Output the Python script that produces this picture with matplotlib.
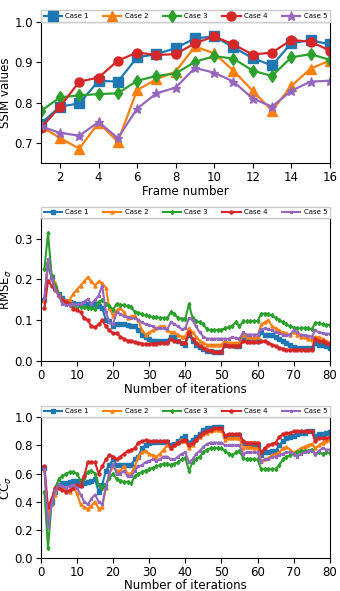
import numpy as np
import matplotlib
matplotlib.use("Agg")
import matplotlib.pyplot as plt

# Panel 1: SSIM per frame
frames = list(range(1, 17))
ssim_c1 = [0.748, 0.790, 0.798, 0.854, 0.852, 0.912, 0.920, 0.935, 0.959, 0.964, 0.937, 0.910, 0.892, 0.947, 0.955, 0.944]
ssim_c2 = [0.741, 0.712, 0.686, 0.750, 0.703, 0.831, 0.858, 0.877, 0.939, 0.922, 0.879, 0.829, 0.780, 0.841, 0.884, 0.904]
ssim_c3 = [0.779, 0.813, 0.818, 0.821, 0.823, 0.854, 0.866, 0.872, 0.901, 0.915, 0.909, 0.879, 0.866, 0.912, 0.920, 0.906]
ssim_c4 = [0.737, 0.790, 0.852, 0.862, 0.904, 0.924, 0.918, 0.920, 0.947, 0.964, 0.944, 0.919, 0.924, 0.955, 0.951, 0.929]
ssim_c5 = [0.741, 0.725, 0.718, 0.752, 0.712, 0.785, 0.823, 0.837, 0.886, 0.874, 0.852, 0.810, 0.790, 0.829, 0.852, 0.854]

# Panel 2: RMSE per iteration
iters = list(range(1, 81))
rmse_c1 = [0.149, 0.235, 0.205, 0.180, 0.165, 0.155, 0.148, 0.145, 0.143, 0.140,
           0.140, 0.142, 0.140, 0.138, 0.140, 0.135, 0.130, 0.101, 0.098, 0.085,
           0.092, 0.090, 0.090, 0.088, 0.087, 0.085, 0.075, 0.065, 0.058, 0.053,
           0.050, 0.050, 0.050, 0.050, 0.050, 0.060, 0.058, 0.050, 0.045, 0.040,
           0.065, 0.050, 0.040, 0.035, 0.030, 0.025, 0.024, 0.023, 0.022, 0.022,
           0.040, 0.040, 0.039, 0.038, 0.038, 0.060, 0.055, 0.050, 0.050, 0.050,
           0.070, 0.065, 0.065, 0.065, 0.060, 0.055, 0.050, 0.045, 0.040, 0.035,
           0.033, 0.033, 0.033, 0.033, 0.033, 0.045, 0.040, 0.040, 0.037, 0.033]
rmse_c2 = [0.148, 0.245, 0.210, 0.190, 0.165, 0.152, 0.148, 0.150, 0.165, 0.175,
           0.185, 0.195, 0.205, 0.195, 0.185, 0.195, 0.190, 0.180, 0.130, 0.110,
           0.125, 0.130, 0.120, 0.105, 0.110, 0.110, 0.100, 0.075, 0.065, 0.070,
           0.075, 0.080, 0.085, 0.085, 0.075, 0.070, 0.070, 0.065, 0.060, 0.060,
           0.080, 0.070, 0.060, 0.050, 0.045, 0.040, 0.040, 0.040, 0.040, 0.040,
           0.050, 0.045, 0.045, 0.045, 0.045, 0.065, 0.060, 0.058, 0.057, 0.060,
           0.090, 0.095, 0.100, 0.085, 0.080, 0.075, 0.070, 0.068, 0.065, 0.070,
           0.065, 0.060, 0.058, 0.055, 0.052, 0.060, 0.058, 0.055, 0.050, 0.045]
rmse_c3 = [0.226, 0.313, 0.209, 0.185, 0.165, 0.150, 0.145, 0.138, 0.135, 0.133,
           0.133, 0.132, 0.130, 0.130, 0.127, 0.145, 0.149, 0.140, 0.135, 0.126,
           0.140, 0.138, 0.137, 0.135, 0.133, 0.120, 0.118, 0.115, 0.112, 0.110,
           0.108, 0.107, 0.106, 0.105, 0.105, 0.120, 0.115, 0.105, 0.104, 0.104,
           0.139, 0.106, 0.098, 0.095, 0.090, 0.078, 0.076, 0.076, 0.076, 0.077,
           0.080, 0.083, 0.085, 0.096, 0.085, 0.097, 0.097, 0.098, 0.098, 0.098,
           0.116, 0.116, 0.115, 0.112, 0.105, 0.100, 0.095, 0.090, 0.085, 0.082,
           0.080, 0.080, 0.081, 0.080, 0.078, 0.093, 0.093, 0.090, 0.088, 0.089]
rmse_c4 = [0.130, 0.195, 0.185, 0.175, 0.160, 0.150, 0.145, 0.140, 0.128, 0.125,
           0.120, 0.105, 0.100, 0.085, 0.083, 0.090, 0.100, 0.085, 0.075, 0.068,
           0.068, 0.060, 0.055, 0.050, 0.050, 0.047, 0.045, 0.043, 0.042, 0.042,
           0.043, 0.043, 0.044, 0.044, 0.045, 0.055, 0.050, 0.048, 0.045, 0.045,
           0.070, 0.055, 0.045, 0.037, 0.032, 0.028, 0.025, 0.023, 0.022, 0.022,
           0.040, 0.038, 0.038, 0.038, 0.038, 0.048, 0.047, 0.047, 0.047, 0.047,
           0.050, 0.048, 0.045, 0.040, 0.037, 0.033, 0.030, 0.028, 0.028, 0.028,
           0.028, 0.028, 0.028, 0.028, 0.028, 0.055, 0.050, 0.048, 0.045, 0.043]
rmse_c5 = [0.155, 0.250, 0.200, 0.175, 0.160, 0.140, 0.137, 0.138, 0.140, 0.138,
           0.140, 0.145, 0.152, 0.140, 0.150, 0.160, 0.185, 0.120, 0.095, 0.090,
           0.120, 0.115, 0.110, 0.108, 0.105, 0.105, 0.100, 0.095, 0.090, 0.088,
           0.085, 0.080, 0.080, 0.080, 0.078, 0.095, 0.090, 0.085, 0.078, 0.080,
           0.105, 0.100, 0.085, 0.070, 0.060, 0.055, 0.055, 0.055, 0.055, 0.055,
           0.055, 0.055, 0.058, 0.057, 0.055, 0.070, 0.065, 0.065, 0.065, 0.065,
           0.078, 0.080, 0.078, 0.075, 0.070, 0.068, 0.065, 0.063, 0.065, 0.075,
           0.070, 0.065, 0.063, 0.062, 0.060, 0.075, 0.070, 0.068, 0.067, 0.067]

# Panel 3: CC per iteration
cc_c1 = [0.64, 0.30, 0.40, 0.47, 0.52, 0.53, 0.535, 0.54, 0.545, 0.55,
         0.52, 0.53, 0.54, 0.55, 0.56, 0.47, 0.52, 0.62, 0.66, 0.70,
         0.66, 0.66, 0.66, 0.66, 0.66, 0.70, 0.72, 0.78, 0.80, 0.82,
         0.825, 0.825, 0.825, 0.825, 0.825, 0.80, 0.81, 0.83, 0.85, 0.87,
         0.82, 0.84, 0.86, 0.88, 0.91, 0.92, 0.925, 0.93, 0.93, 0.93,
         0.87, 0.87, 0.87, 0.87, 0.875, 0.82, 0.80, 0.80, 0.80, 0.80,
         0.73, 0.75, 0.755, 0.76, 0.76, 0.80, 0.83, 0.85, 0.86, 0.87,
         0.88, 0.89, 0.89, 0.90, 0.90, 0.87, 0.88, 0.88, 0.885, 0.895]
cc_c2 = [0.63, 0.30, 0.38, 0.45, 0.52, 0.50, 0.48, 0.47, 0.50, 0.46,
         0.38, 0.36, 0.35, 0.37, 0.40, 0.35, 0.36, 0.50, 0.60, 0.65,
         0.62, 0.62, 0.65, 0.60, 0.60, 0.65, 0.72, 0.75, 0.76, 0.74,
         0.73, 0.72, 0.74, 0.77, 0.80, 0.78, 0.80, 0.82, 0.84, 0.83,
         0.78, 0.80, 0.84, 0.86, 0.88, 0.89, 0.90, 0.91, 0.91, 0.91,
         0.84, 0.85, 0.85, 0.85, 0.85, 0.78, 0.79, 0.79, 0.78, 0.78,
         0.69, 0.70, 0.71, 0.73, 0.74, 0.75, 0.78, 0.79, 0.77, 0.75,
         0.76, 0.78, 0.79, 0.80, 0.81, 0.78, 0.80, 0.82, 0.83, 0.84]
cc_c3 = [0.47, 0.07, 0.40, 0.50, 0.56, 0.58, 0.60, 0.61, 0.61, 0.60,
         0.55, 0.57, 0.61, 0.62, 0.60, 0.52, 0.50, 0.52, 0.57, 0.60,
         0.56, 0.55, 0.54, 0.54, 0.53, 0.58, 0.60, 0.61, 0.62, 0.63,
         0.64, 0.65, 0.66, 0.67, 0.67, 0.66, 0.67, 0.68, 0.70, 0.71,
         0.62, 0.68, 0.70, 0.72, 0.75, 0.77, 0.78, 0.78, 0.78, 0.78,
         0.76, 0.74, 0.73, 0.75, 0.76, 0.71, 0.70, 0.70, 0.70, 0.70,
         0.63, 0.63, 0.63, 0.63, 0.63, 0.66, 0.70, 0.72, 0.73, 0.74,
         0.75, 0.76, 0.76, 0.76, 0.77, 0.74, 0.75, 0.74, 0.75, 0.745]
cc_c4 = [0.65, 0.36, 0.42, 0.50, 0.50, 0.48, 0.47, 0.48, 0.50, 0.52,
         0.51, 0.58, 0.68, 0.68, 0.68, 0.60, 0.65, 0.70, 0.73, 0.72,
         0.70, 0.72, 0.74, 0.76, 0.77, 0.78, 0.82, 0.83, 0.835, 0.83,
         0.83, 0.83, 0.83, 0.83, 0.83, 0.78, 0.80, 0.82, 0.83, 0.84,
         0.80, 0.82, 0.84, 0.87, 0.89, 0.90, 0.91, 0.92, 0.92, 0.92,
         0.87, 0.88, 0.88, 0.88, 0.88, 0.83, 0.82, 0.82, 0.82, 0.82,
         0.75, 0.78, 0.80, 0.81, 0.82, 0.86, 0.88, 0.885, 0.89, 0.90,
         0.90, 0.90, 0.90, 0.90, 0.90, 0.83, 0.85, 0.85, 0.85, 0.86]
cc_c5 = [0.63, 0.22, 0.38, 0.48, 0.52, 0.51, 0.50, 0.51, 0.52, 0.50,
         0.45, 0.40, 0.38, 0.42, 0.45, 0.40, 0.38, 0.50, 0.60, 0.67,
         0.60, 0.60, 0.62, 0.58, 0.58, 0.62, 0.65, 0.66, 0.68, 0.69,
         0.70, 0.69, 0.70, 0.72, 0.72, 0.70, 0.70, 0.72, 0.74, 0.75,
         0.68, 0.70, 0.74, 0.76, 0.79, 0.81, 0.82, 0.82, 0.82, 0.82,
         0.80, 0.80, 0.80, 0.80, 0.80, 0.74, 0.75, 0.75, 0.75, 0.75,
         0.68, 0.70, 0.70, 0.72, 0.72, 0.73, 0.74, 0.75, 0.75, 0.74,
         0.72, 0.74, 0.75, 0.76, 0.76, 0.74, 0.76, 0.78, 0.77, 0.77]

case_names = ["Case 1", "Case 2", "Case 3", "Case 4", "Case 5"]
colors = ["#1f77b4", "#ff7f0e", "#2ca02c", "#d62728", "#9467bd"]
markers = ["s", "^", "d", "o", "*"]

fig = plt.figure(figsize=(3.4, 5.91), dpi=100)
left, width = 0.12, 0.85
ax1 = fig.add_axes([left, 0.724, width, 0.239])
ax2 = fig.add_axes([left, 0.389, width, 0.242])
ax3 = fig.add_axes([left, 0.056, width, 0.238])


def add_legend(ax):
    ax.legend(bbox_to_anchor=(0, 1.0, 1, 0.1), loc="lower left", mode="expand",
              ncol=5, borderaxespad=0, fontsize=5, handlelength=2.6,
              columnspacing=0.8, handletextpad=0.5, borderpad=0.4,
              fancybox=False, framealpha=1)


# SSIM
for vals, c, m, n in zip([ssim_c1, ssim_c2, ssim_c3, ssim_c4, ssim_c5], colors, markers, case_names):
    ax1.plot(frames, vals, color=c, marker=m, markersize=6.5, lw=1.6, label=n)
ax1.set_xlim(1, 16)
ax1.set_ylim(0.65, 1.0)
ax1.set_xticks(range(2, 17, 2))
ax1.set_yticks([0.7, 0.8, 0.9, 1.0])
ax1.set_xlabel("Frame number", fontsize=8.5, labelpad=1)
ax1.set_ylabel("SSIM values", fontsize=8.5, labelpad=2)
add_legend(ax1)

# RMSE
for vals, c, m, n in zip([rmse_c1, rmse_c2, rmse_c3, rmse_c4, rmse_c5], colors, markers, case_names):
    ax2.plot(iters, vals, color=c, marker=m, markersize=2.2, lw=1.5, label=n)
ax2.set_xlim(0, 80)
ax2.set_ylim(0, 0.35)
ax2.set_xticks(range(0, 81, 10))
ax2.set_yticks([0.0, 0.1, 0.2, 0.3])
ax2.set_xlabel("Number of iterations", fontsize=8.5, labelpad=1)
ax2.set_ylabel(r"RMSE$_\sigma$", fontsize=8.5, labelpad=0.5)
add_legend(ax2)

# CC
for vals, c, m, n in zip([cc_c1, cc_c2, cc_c3, cc_c4, cc_c5], colors, markers, case_names):
    ax3.plot(iters, vals, color=c, marker=m, markersize=2.2, lw=1.5, label=n)
ax3.set_xlim(0, 80)
ax3.set_ylim(0, 1.0)
ax3.set_xticks(range(0, 81, 10))
ax3.set_yticks(np.arange(0, 1.01, 0.2))
ax3.set_xlabel("Number of iterations", fontsize=8.5, labelpad=0)
ax3.set_ylabel(r"CC$_\sigma$", fontsize=8.5, labelpad=0.5)
add_legend(ax3)

for ax in (ax1, ax2, ax3):
    ax.tick_params(labelsize=8.5, length=3.5, pad=2)

fig.savefig("out.png", dpi=100)
